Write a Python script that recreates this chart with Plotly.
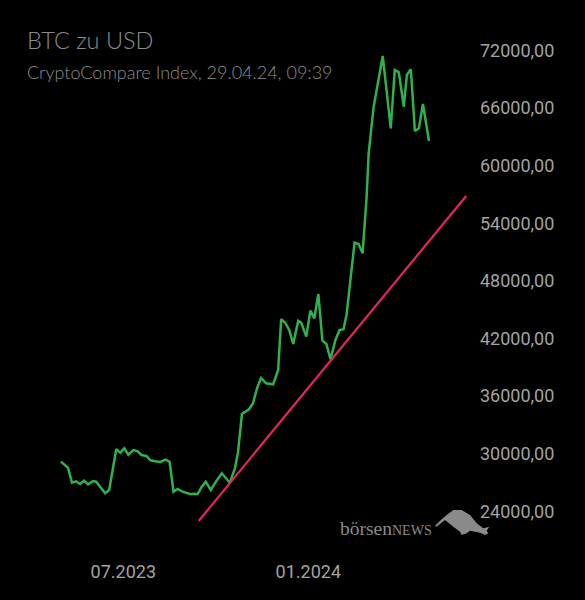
import plotly.graph_objects as go

# BTC/USD closing prices
dates = [
    '2023-04-30', '2023-05-07', '2023-05-11', '2023-05-15', '2023-05-19', '2023-05-23',
    '2023-05-27', '2023-06-01', '2023-06-04', '2023-06-13', '2023-06-17', '2023-06-24',
    '2023-06-28', '2023-07-02', '2023-07-06', '2023-07-11', '2023-07-15', '2023-07-19',
    '2023-07-24', '2023-07-28', '2023-08-02', '2023-08-07', '2023-08-12', '2023-08-16',
    '2023-08-20', '2023-08-24', '2023-08-29', '2023-09-02', '2023-09-06', '2023-09-09',
    '2023-09-13', '2023-09-17', '2023-09-21', '2023-09-26', '2023-09-30', '2023-10-07',
    '2023-10-15', '2023-10-20', '2023-10-23', '2023-10-27', '2023-11-03', '2023-11-07',
    '2023-11-11', '2023-11-15', '2023-11-20', '2023-11-27', '2023-12-02', '2023-12-05',
    '2023-12-09', '2023-12-13', '2023-12-17', '2023-12-22', '2023-12-25', '2023-12-30',
    '2024-01-03', '2024-01-07', '2024-01-11', '2024-01-15', '2024-01-19', '2024-01-23',
    '2024-01-28', '2024-02-01', '2024-02-05', '2024-02-08', '2024-02-13', '2024-02-16',
    '2024-02-20', '2024-02-24', '2024-02-28', '2024-03-01', '2024-03-06', '2024-03-15',
    '2024-03-23', '2024-03-27', '2024-03-31', '2024-04-05', '2024-04-08', '2024-04-12',
    '2024-04-16', '2024-04-20', '2024-04-24', '2024-04-30',
]
prices = [
    29170, 28540, 26980, 27125, 26845, 27190,
    26810, 27155, 27085, 25875, 26220, 30460,
    30105, 30560, 29895, 30385, 30280, 29865,
    29760, 29310, 29210, 29135, 29375, 29165,
    26040, 26325, 26040, 25905, 25770, 25835,
    25800, 26560, 27085, 26220, 26915, 27960,
    26980, 28480, 30075, 34135, 34625, 35250,
    36810, 37885, 37335, 37230, 38720, 44000,
    43645, 42885, 41425, 43855, 43645, 42190,
    44895, 44105, 46635, 41770, 41425, 39835,
    41845, 42885, 42960, 44450, 49135, 51980,
    51845, 50875, 56770, 61290, 66145, 71430,
    63895, 69970, 69730, 66145, 69450, 70040,
    63615, 63895, 66430, 62575,
]

# trend line (support)
trend_dates = ['2023-09-14', '2024-06-06']
trend_prices = [22990, 56844]

y_ticks = [24000, 30000, 36000, 42000, 48000, 54000, 60000, 66000, 72000]
x_ticks = ['2023-07-01', '2024-01-01']
x_labels = ['07.2023', '01.2024']

W, H = 585, 600
L, R, T, B = 0, 115, 20, 55
PW, PH = W - L - R, H - T - B


def px(x):
    return (x - L) / PW


def py(y):
    return (H - B - y) / PH


fig = go.Figure()

fig.add_trace(go.Scatter(
    x=dates, y=prices, mode='lines',
    line=dict(color='#2fb24c', width=2.5),
    hoverinfo='skip', showlegend=False
))

fig.add_trace(go.Scatter(
    x=trend_dates, y=trend_prices, mode='lines',
    line=dict(color='#e8245a', width=2.2),
    hoverinfo='skip', showlegend=False
))

# title + subtitle
fig.add_annotation(
    x=px(25), y=py(40), xref='paper', yref='paper', xanchor='left', yanchor='middle',
    text='BTC zu USD', showarrow=False,
    font=dict(family='Lato', size=23.5, color='#8c8c8c', weight=300)
)
fig.add_annotation(
    x=px(25), y=py(72), xref='paper', yref='paper', xanchor='left', yanchor='middle',
    text='CryptoCompare Index, 29.04.24, 09:39', showarrow=False,
    font=dict(family='Lato', size=18, color='#8c8c8c', weight=300)
)

# watermark
fig.add_annotation(
    x=px(434), y=py(528), xref='paper', yref='paper', xanchor='right', yanchor='middle',
    text="börsen<span style='font-size:14px'>NEWS</span>", showarrow=False,
    font=dict(family='Liberation Serif', size=19.5, color='#8a8a8a')
)
bull = [(435, 526), (440, 520.7), (446.7, 515), (453.3, 510), (461.7, 510), (470, 515),
        (476.7, 523.3), (483.3, 528.3), (489.3, 526.7), (486.7, 530.7), (488.3, 533.3),
        (485, 535), (480, 532.7), (470, 530.7), (466.7, 533.3), (461.7, 535), (460, 531.7),
        (453.3, 526.7), (445, 520), (436.7, 526.7)]
path = 'M ' + ' L '.join(f'{px(a):.4f},{py(b):.4f}' for a, b in bull) + ' Z'
fig.add_shape(type='path', path=path, xref='paper', yref='paper',
              fillcolor='#8a8a8a', line=dict(width=0), layer='above')

fig.update_layout(
    width=W, height=H,
    margin=dict(l=L, r=R, t=T, b=B),
    paper_bgcolor='#000000',
    plot_bgcolor='#000000',
    separators=',.',
    xaxis=dict(
        range=['2023-02-28 09:36', '2024-06-09 19:12'],
        tickvals=x_ticks, ticktext=x_labels,
        showgrid=False, zeroline=False, showline=False, ticks='',
        ticklabelstandoff=14,
        tickfont=dict(family='Roboto', size=18, color='#a3a3a3'),
        fixedrange=True
    ),
    yaxis=dict(
        range=[20490, 75177],
        side='right',
        tickvals=y_ticks, tickformat='.2f',
        showgrid=False, zeroline=False, showline=False, ticks='',
        ticklabelstandoff=9,
        tickfont=dict(family='Roboto', size=18, color='#a3a3a3'),
        fixedrange=True
    ),
)

# drop the default page margin so the chart sits flush in the window
fig.write_html('out.html', config={'displayModeBar': False},
               post_script="document.body.style.margin='0';"
                           "document.body.style.background='#000';")
